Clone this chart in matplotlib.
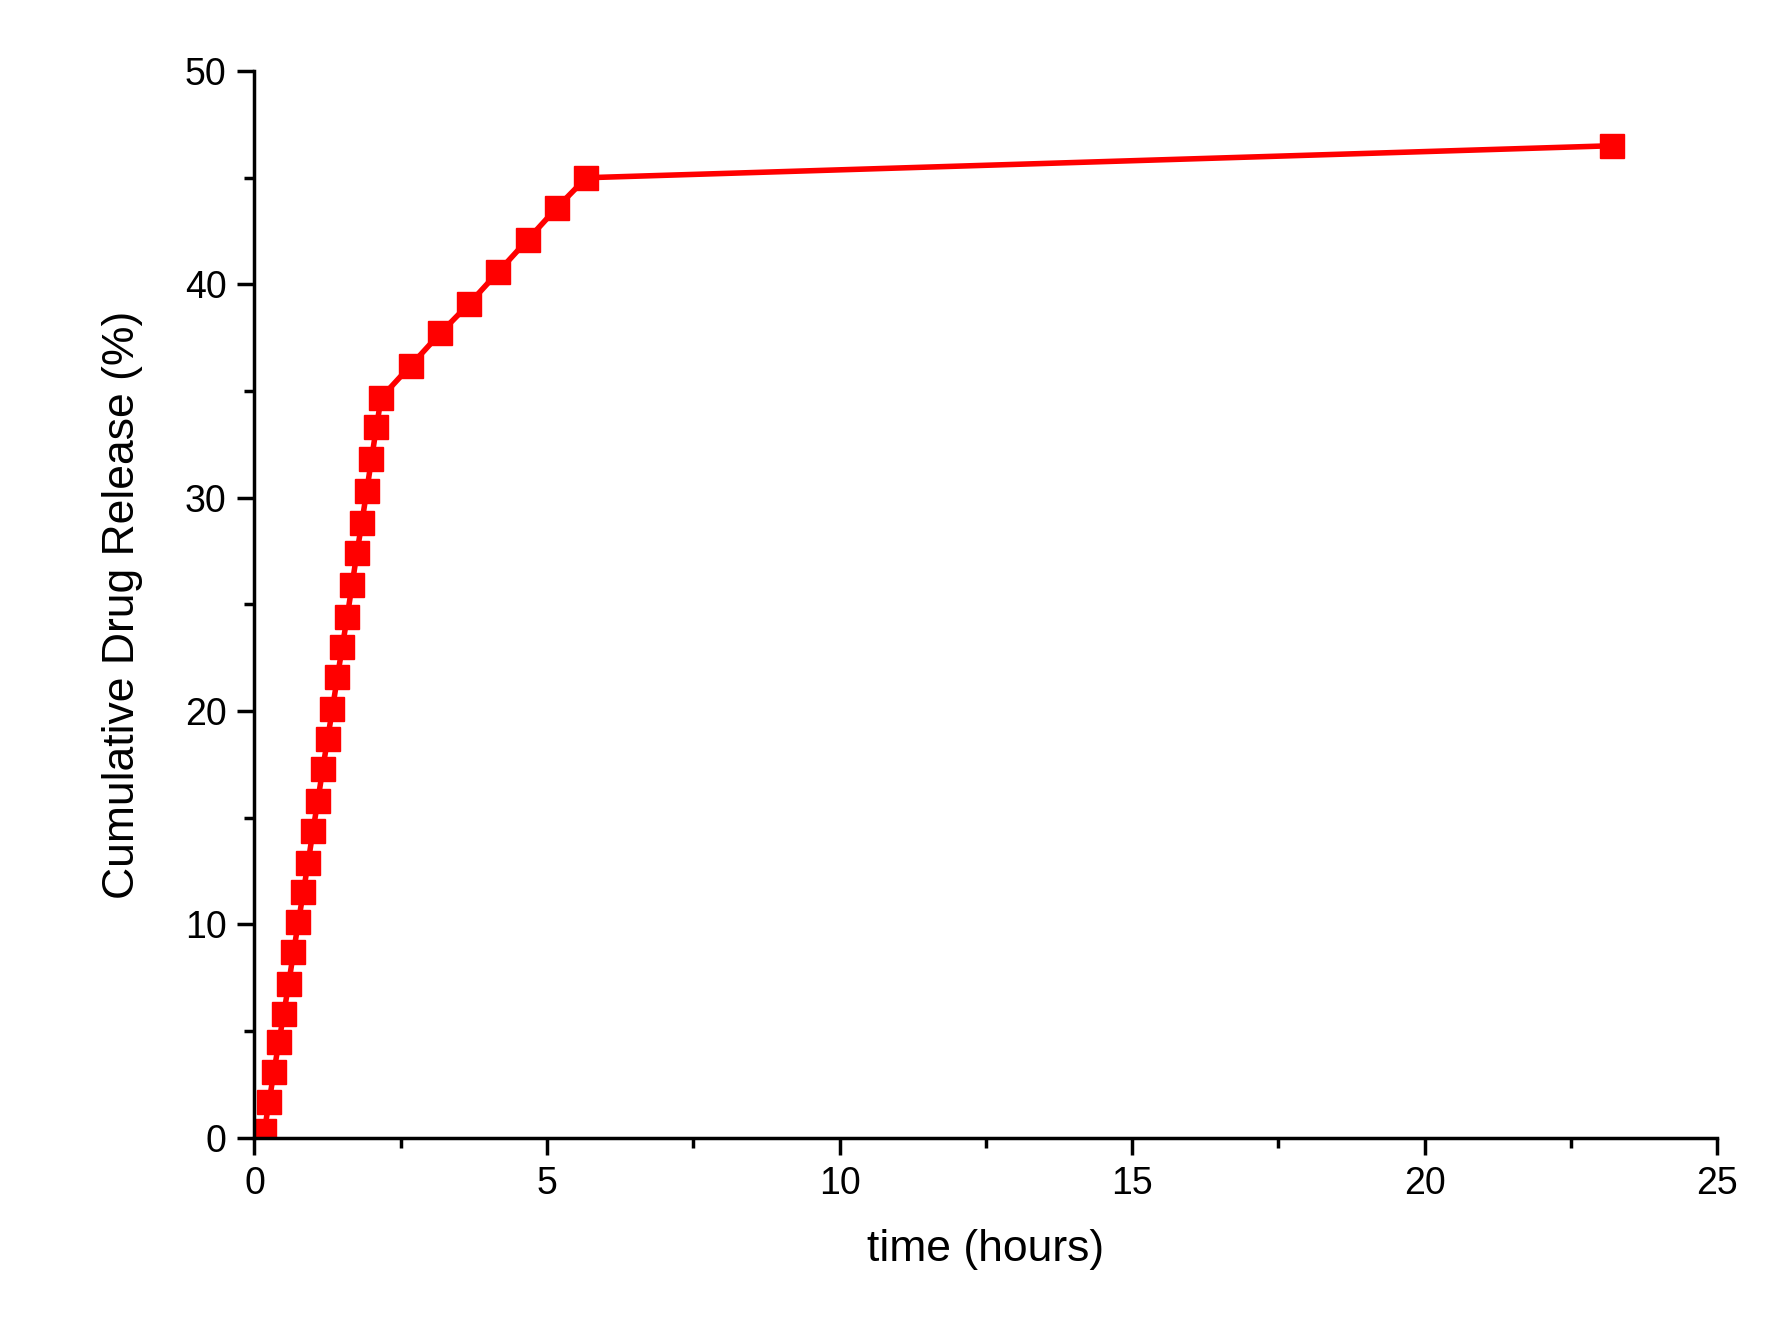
import matplotlib
matplotlib.use("Agg")
import matplotlib.pyplot as plt
from matplotlib.ticker import MultipleLocator

time_h = [0.167,0.25,0.333,0.417,0.5,0.583,0.667,0.75,0.833,0.917,1.0,1.083,1.167,1.25,1.333,
          1.417,1.5,1.583,1.667,1.75,1.833,1.917,2.0,2.083,2.167,2.67,3.17,3.67,4.17,4.67,5.17,5.67,23.2]
release = [0.3,1.7,3.1,4.5,5.8,7.2,8.7,10.1,11.5,12.9,14.4,15.8,17.3,18.7,20.1,
           21.6,23.0,24.4,25.9,27.4,28.8,30.3,31.8,33.3,34.7,36.2,37.7,39.1,40.6,42.1,43.6,45.0,46.5]

plt.rcParams['font.family'] = ['Liberation Sans', 'DejaVu Sans']
fig = plt.figure(figsize=(17.87, 13.41), dpi=100)
ax = fig.add_axes([0.1424, 0.1515, 0.8186, 0.7955])
ax.plot(time_h, release, color='#ff0000', lw=4, marker='s', markersize=17, mec='#ff0000')
ax.set_xlim(0, 25)
ax.set_ylim(0, 50)
ax.spines['top'].set_visible(False)
ax.spines['right'].set_visible(False)
for s in ('left', 'bottom'):
    ax.spines[s].set_linewidth(2.5)
ax.xaxis.set_major_locator(MultipleLocator(5))
ax.xaxis.set_minor_locator(MultipleLocator(2.5))
ax.yaxis.set_major_locator(MultipleLocator(10))
ax.yaxis.set_minor_locator(MultipleLocator(5))
ax.tick_params(which='major', length=12, width=2.5, labelsize=27, pad=8)
ax.tick_params(which='minor', length=7, width=2.5)
ax.set_xlabel('time (hours)', fontsize=32, labelpad=20)
ax.set_ylabel('Cumulative Drug Release (%)', fontsize=32, labelpad=30)
fig.savefig('out.png', dpi=100)
